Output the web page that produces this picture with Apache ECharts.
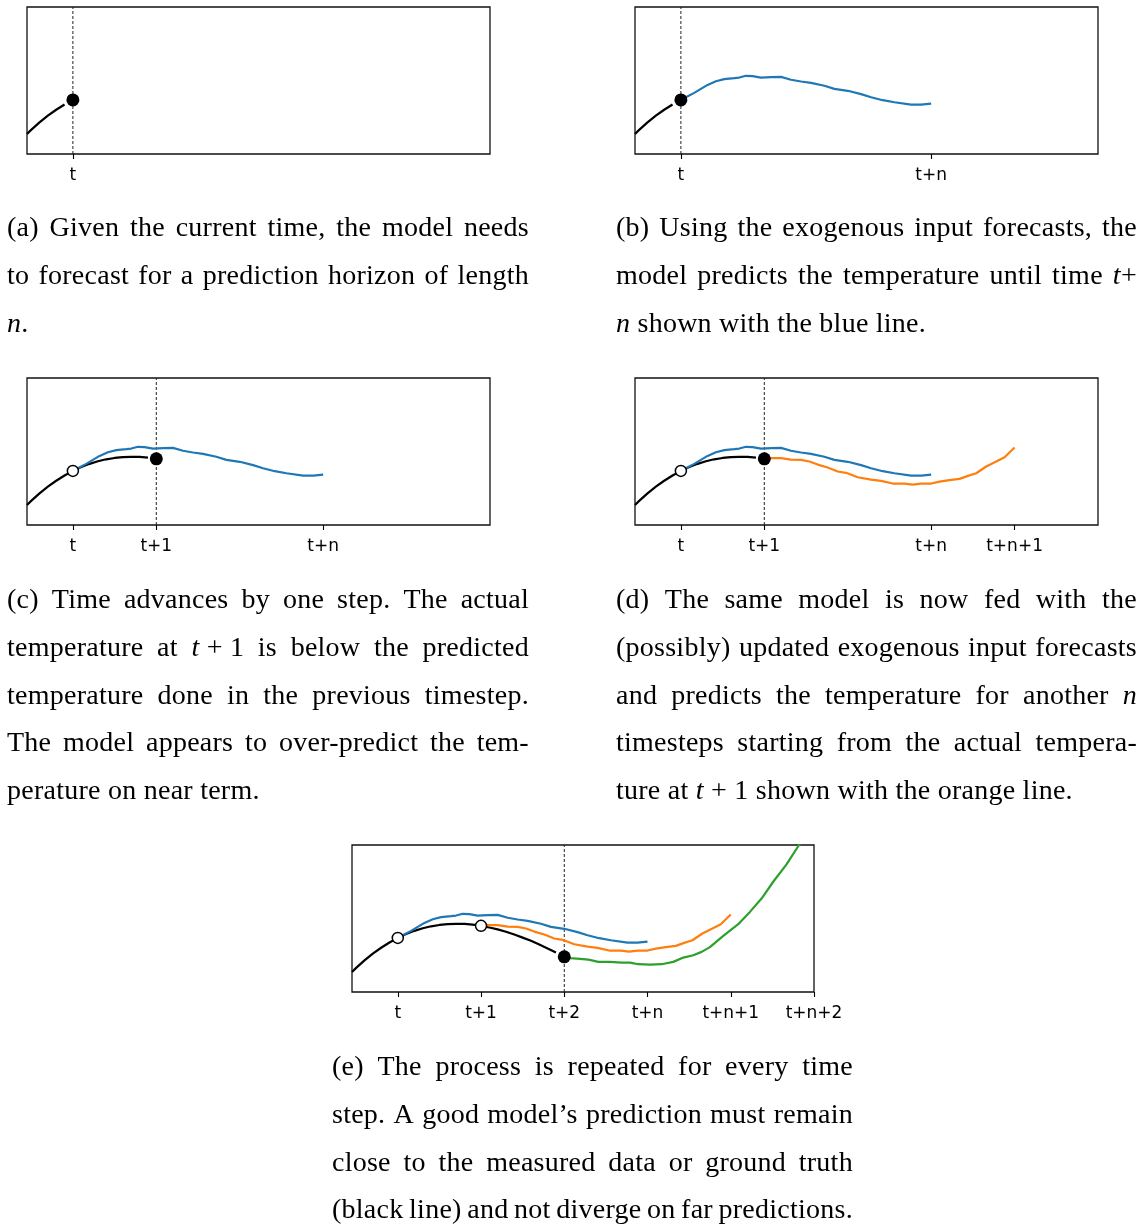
<!DOCTYPE html>
<html>
<head>
<meta charset="utf-8">
<script src="https://cdn.jsdelivr.net/npm/echarts@6/dist/echarts.min.js"></script>
<style>
  html, body { margin: 0; padding: 0; background: #fff; }
  #chart { position: absolute; left: 0; top: 0; width: 1141px; height: 1224px; }
  .cap { position: absolute; font-family: "Liberation Serif", "Times New Roman", serif; font-size: 28px; letter-spacing: 0.25px; line-height: 47.8px; color: #000; z-index: 2; }
  .ln { height: 47.8px; white-space: nowrap; }
  .ln.j { display: flex; justify-content: space-between; column-gap: 5px; }
</style>
</head>
<body>
<div id="chart"></div>
<div id="caps"></div>
<script>
// ---------- data ----------
const tickValues = [0, 1, 2, 3, 4, 5];
const tickLabels = ['t', 't+1', 't+2', 't+n', 't+n+1', 't+n+2'];

// ground truth (black line)
const truthX = [-0.55,-0.5,-0.4,-0.3,-0.2,-0.1,0,0.1,0.2,0.3,0.4,0.5,0.6,0.7,0.8,0.9,1.0,1.1,1.2,1.3,1.4,1.5,1.6,1.7,1.8,1.9,2.0];
const truthY = [0.136,0.164,0.215,0.261,0.301,0.337,0.368,0.394,0.416,0.434,0.447,0.456,0.462,0.464,0.463,0.458,0.450,0.439,0.426,0.410,0.391,0.370,0.348,0.323,0.296,0.268,0.239];

// prediction made at t (blue)
const pred1X = [0,0.06,0.16,0.32,0.42,0.52,0.64,0.70,0.78,0.86,0.96,1.08,1.20,1.32,1.44,1.56,1.72,1.84,2.00,2.16,2.28,2.42,2.56,2.76,2.88,3.00];
const pred1Y = [0.368,0.386,0.416,0.470,0.495,0.509,0.516,0.520,0.532,0.530,0.520,0.523,0.525,0.505,0.493,0.484,0.464,0.443,0.430,0.407,0.386,0.366,0.352,0.336,0.336,0.343];

// prediction made at t+1 (orange)
const pred2X = [1.00,1.08,1.20,1.32,1.44,1.54,1.64,1.76,1.88,1.98,2.12,2.28,2.40,2.54,2.68,2.78,2.88,3.00,3.10,3.22,3.34,3.44,3.54,3.66,3.78,3.88,4.00];
const pred2Y = [0.450,0.455,0.455,0.445,0.443,0.432,0.411,0.391,0.364,0.355,0.325,0.309,0.300,0.282,0.282,0.275,0.282,0.282,0.295,0.305,0.314,0.334,0.352,0.398,0.432,0.461,0.527];

// prediction made at t+2 (green)
const pred3X = [2.00,2.07,2.19,2.29,2.41,2.55,2.69,2.79,2.89,3.03,3.17,3.31,3.43,3.55,3.65,3.75,3.91,4.09,4.23,4.37,4.51,4.67,4.82,4.89];
const pred3Y = [0.239,0.230,0.225,0.220,0.205,0.205,0.200,0.200,0.189,0.186,0.189,0.205,0.234,0.250,0.273,0.305,0.382,0.461,0.545,0.636,0.750,0.868,1.000,1.057];

// per panel: current time, visible ticks, number of forecasts shown, last truth x drawn
const panelNow = [0, 0, 1, 1, 2];
const panelTicks = [[0], [0, 3], [0, 1, 3], [0, 1, 3, 4], [0, 1, 2, 3, 4, 5]];
const panelPredCount = [0, 1, 1, 2, 3];
const panelTruthEnd = [-0.1, -0.1, 0.9, 0.9, 1.9];

// ---------- layout / style ----------
const grids = [
  { left: 27,  top: 7,   width: 463, height: 147 },
  { left: 635, top: 7,   width: 463, height: 147 },
  { left: 27,  top: 378, width: 463, height: 147 },
  { left: 635, top: 378, width: 463, height: 147 },
  { left: 352, top: 845, width: 462, height: 147 }
];
const predColors = ['#1f77b4', '#ff7f0e', '#2ca02c'];
const preds = [[pred1X, pred1Y], [pred2X, pred2Y], [pred3X, pred3Y]];

function zip(xs, ys) { return xs.map((x, i) => [x, ys[i]]); }
function truthAt(x) { return truthY[truthX.indexOf(x)]; }

const option = {
  animation: false,
  backgroundColor: '#fff',
  grid: grids.map(g => Object.assign({ show: true, borderColor: '#111', borderWidth: 1.3, backgroundColor: 'transparent', containLabel: false }, g)),
  xAxis: grids.map((g, i) => ({
    type: 'value', gridIndex: i, min: -0.55, max: 5, position: 'bottom',
    axisLine: { show: false },
    splitLine: { show: false },
    axisTick: { show: true, customValues: panelTicks[i], length: 5, inside: false, lineStyle: { color: '#000', width: 1.1 } },
    axisLabel: {
      show: true, customValues: panelTicks[i], margin: 13,
      fontFamily: 'DejaVu Sans', fontSize: 17, color: '#000',
      showMinLabel: true, showMaxLabel: true,
      formatter: v => tickLabels[tickValues.indexOf(v)]
    }
  })),
  yAxis: grids.map((g, i) => ({ type: 'value', gridIndex: i, min: 0, max: 1, show: false })),
  series: []
};

grids.forEach((g, i) => {
  const now = panelNow[i];
  // dashed "current time" line
  option.series.push({
    type: 'line', xAxisIndex: i, yAxisIndex: i, silent: true, symbol: 'none', z: 1,
    data: [[now, 0], [now, 1]],
    lineStyle: { color: '#222', width: 1, type: [3, 2] }
  });
  // ground truth
  const tx = truthX.filter(x => x <= panelTruthEnd[i] + 1e-9);
  option.series.push({
    type: 'line', xAxisIndex: i, yAxisIndex: i, silent: true, symbol: 'none', z: 2,
    data: zip(tx, truthY.slice(0, tx.length)),
    lineStyle: { color: '#000', width: 2.2 }
  });
  // forecasts
  for (let k = 0; k < panelPredCount[i]; k++) {
    option.series.push({
      type: 'line', xAxisIndex: i, yAxisIndex: i, silent: true, symbol: 'none', z: 3 + k,
      clip: true,
      data: zip(preds[k][0], preds[k][1]),
      lineStyle: { color: predColors[k], width: 2.2 }
    });
  }
  // past observation points (open circles)
  const past = tickValues.filter(v => v < now);
  if (past.length) {
    option.series.push({
      type: 'scatter', xAxisIndex: i, yAxisIndex: i, silent: true, z: 10,
      symbol: 'circle', symbolSize: 11,
      data: past.map(v => [v, truthAt(v)]),
      itemStyle: { color: '#fff', borderColor: '#000', borderWidth: 1.5, opacity: 1 }
    });
  }
  // current observation (filled dot)
  option.series.push({
    type: 'scatter', xAxisIndex: i, yAxisIndex: i, silent: true, z: 11,
    symbol: 'circle', symbolSize: 13,
    data: [[now, truthAt(now)]],
    itemStyle: { color: '#000', opacity: 1 }
  });
});

const chart = echarts.init(document.getElementById('chart'), null, { renderer: 'canvas' });
chart.setOption(option);

// ---------- captions ----------
const S = '\u2005';
const captions = [
  { left: 7, top: 203, width: 522, lines: [
    ['(a) Given the current time, the model needs', true],
    ['to forecast for a prediction horizon of length', true],
    ['<i>n</i>.', false] ] },
  { left: 616, top: 203, width: 521, lines: [
    ['(b) Using the exogenous input forecasts, the', true],
    ['model predicts the temperature until time <i>t</i>+', true],
    ['<i>n</i> shown with the blue line.', false] ] },
  { left: 7, top: 575, width: 522, lines: [
    ['(c) Time advances by one step. The actual', true],
    ['temperature at <i>t</i>' + S + '+' + S + '1 is below the predicted', true],
    ['temperature done in the previous timestep.', true],
    ['The model appears to over-predict the tem-', true],
    ['perature on near term.', false] ] },
  { left: 616, top: 575, width: 521, lines: [
    ['(d) The same model is now fed with the', true],
    ['(possibly) updated exogenous input forecasts', true],
    ['and predicts the temperature for another <i>n</i>', true],
    ['timesteps starting from the actual tempera-', true],
    ['ture at <i>t</i>' + S + '+' + S + '1 shown with the orange line.', false] ] },
  { left: 332, top: 1042, width: 521, lines: [
    ['(e) The process is repeated for every time', true],
    ['step. A good model\u2019s prediction must remain', true],
    ['close to the measured data or ground truth', true],
    ['(black line) and not diverge on far predictions.', true] ] }
];
const caps = document.getElementById('caps');
captions.forEach(c => {
  const box = document.createElement('div');
  box.className = 'cap';
  box.style.left = c.left + 'px';
  box.style.top = c.top + 'px';
  box.style.width = c.width + 'px';
  c.lines.forEach(([txt, just]) => {
    const ln = document.createElement('div');
    ln.className = 'ln' + (just ? ' j' : '');
    if (just) {
      txt.split(' ').forEach(w => { const s = document.createElement('span'); s.innerHTML = w; ln.appendChild(s); });
    } else {
      ln.innerHTML = txt;
    }
    box.appendChild(ln);
  });
  caps.appendChild(box);
});
</script>
</body>
</html>
